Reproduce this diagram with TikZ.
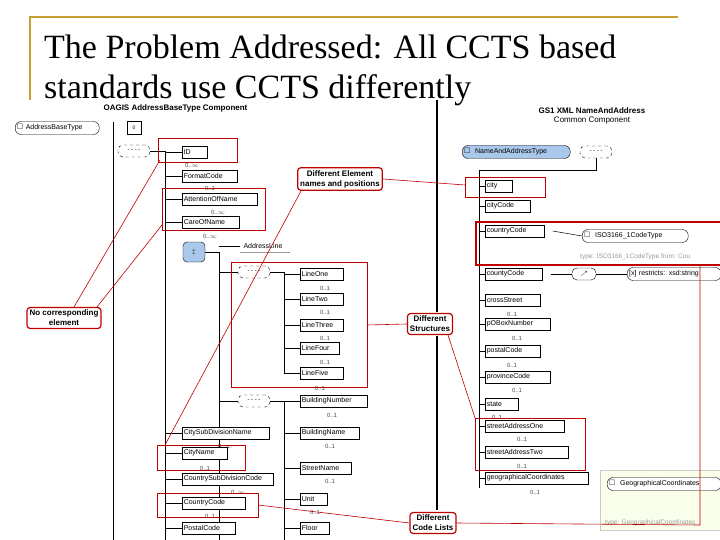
\documentclass[tikz,border=0pt]{standalone}
\usepackage{amssymb}
\usepackage{fontspec}
\setmainfont{Liberation Serif}
\newfontfamily\ssf{Liberation Sans}
\begin{document}
\begin{tikzpicture}[x=1pt,y=-1pt,
 el/.style={draw=black,fill=white,line width=0.6pt,font=\ssf\fontsize{7}{7}\selectfont,anchor=west,minimum height=12pt,inner sep=1.5pt,align=left,text width=#1},
 el/.default=30pt,
 ln/.style={line width=0.5pt,black},
 rb/.style={draw=red!75!black,line width=0.8pt},
 rl/.style={red!75!black,line width=0.6pt},
 call/.style={draw=red!75!black,line width=1.2pt,rounded corners=3pt,fill=white,font=\ssf\bfseries\fontsize{8}{10}\selectfont,align=center,inner sep=2.5pt},
 mult/.style={font=\ssf\fontsize{6}{6}\selectfont,text=black!70,inner sep=0pt},
 seq/.style={draw,dashed,rounded corners=5pt,fill=white,minimum width=32pt,minimum height=12pt,inner sep=0pt,font=\ssf\fontsize{6}{6}\selectfont},
 typ/.style={draw,rounded corners=6pt,fill=white,minimum height=13pt,anchor=west,font=\ssf\fontsize{7}{7}\selectfont,inner sep=2pt,align=left},
 gray/.style={font=\ssf\fontsize{6.5}{6}\selectfont,text=black!40,anchor=west,inner sep=0pt}]
\useasboundingbox (0,0) rectangle (720,540);
\fill[white] (0,0) rectangle (720,540);
% frame
\draw[color={rgb,255:red,200;green,160;blue,50},line width=1.5pt] (30,100) -- (30,17) -- (678,17);
% ===== left component =====
\node[font=\ssf\bfseries\fontsize{8}{8}\selectfont,anchor=west] (hl) at (100,108) {OAGIS AddressBaseType Component};
\node[typ,text width=80pt] (abt) at (15,128) {$\square$\ AddressBaseType};
\node[draw,fill=white,minimum width=14pt,minimum height=13pt,inner sep=0pt] (ch1) at (134,128) {\ssf\tiny 0};
\node[seq] (s1) at (134,151) {- - - -};
\draw[ln] (113,122) -- (113,540);
\draw[ln] (s1.east) -- (165,151) coordinate (v1);
\draw[ln] (165,151) -- (165,540);
\newcommand\elm[6]{\node[el=#4pt] (#1) at (#2,#3) {#5}; \draw[ln] (#6,#3) -- (#1.west);}
\elm{id}{182}{152}{22}{ID}{165}
\node[mult] (m1) at (192,165) {0..$\infty$};
\elm{fc}{182}{176}{52}{FormatCode}{165}
\node[mult] (m2) at (210,188) {0..1};
\elm{aon}{182}{199}{72}{AttentionOfName}{165}
\node[mult] (m3) at (218,212) {0..$\infty$};
\elm{con}{182}{222}{54}{CareOfName}{165}
\node[mult] (m4) at (210,236) {0..$\infty$};
\node[draw,rounded corners=4pt,fill={rgb,255:red,170;green,200;blue,235},minimum width=22pt,minimum height=20pt] (chc) at (194,252) {\ssf\tiny $\updownarrow$};
\draw[ln] (chc.east) -- (219,252) -- (219,540);
\node[font=\ssf\fontsize{7}{7}\selectfont,anchor=west] (adl) at (240,246) {AddressLine};
\draw[black!40,line width=1pt] (240,252) -- (290,252);
\draw[ln] (219,246) -- (adl.west);
\node[seq] (s2) at (254,272) {- - - -};
\draw[ln] (219,272) -- (s2.west);
\draw[ln] (s2.east) -- (284,272) -- (284,373);
\elm{l1}{300}{274}{40}{LineOne}{284}
\node[mult] (m5) at (325,288) {0..1};
\elm{l2}{300}{299}{40}{LineTwo}{284}
\node[mult] (m6) at (325,312) {0..1};
\elm{l3}{300}{325}{40}{LineThree}{284}
\node[mult] (m7) at (325,338) {0..1};
\elm{l4}{300}{348}{36}{LineFour}{284}
\node[mult] (m8) at (325,362) {0..1};
\elm{l5}{300}{373}{40}{LineFive}{284}
\node[mult] (m9) at (320,388) {0..1};
\node[seq] (s3) at (254,401) {- - - -};
\draw[ln] (219,401) -- (s3.west);
\draw[ln] (s3.east) -- (284,401) -- (284,540);
\elm{bn}{300}{401}{64}{BuildingNumber}{284}
\node[mult] (m10) at (332,415) {0..1};
\elm{bna}{300}{433}{56}{BuildingName}{284}
\node[mult] (m11) at (330,446) {0..1};
\elm{sn}{300}{468}{48}{StreetName}{284}
\node[mult] (m12) at (330,481) {0..1};
\elm{un}{300}{499}{24}{Unit}{284}
\node[mult] (m13) at (315,512) {0..1};
\elm{fl}{300}{528}{26}{Floor}{284}
\elm{csd}{182}{433}{84}{CitySubDivisionName}{165}
\node[mult] (m14) at (225,446) {0..$\infty$};
\elm{cn}{182}{453}{42}{CityName}{165}
\node[mult] (m15) at (205,468) {0..1};
\elm{csc}{182}{479}{88}{CountrySubDivisionCode}{165}
\node[mult] (m16) at (238,492) {0..$\infty$};
\elm{cc}{182}{503}{60}{CountryCode}{165}
\node[mult] (m17) at (210,516) {0..1};
\elm{pc}{182}{528}{50}{PostalCode}{165}
% red boxes left
\draw[rb] (158,138) rectangle (237,162);
\draw[rb] (162,188) rectangle (265,230);
\draw[rb] (231,262) rectangle (367,387);
\draw[rb] (157,445) rectangle (245,470);
\draw[rb] (157,493) rectangle (258,517);
\coordinate (rbid) at (160,160);
\coordinate (rbao) at (162,225);
\coordinate (rbl) at (367,325);
\coordinate (rbcn) at (165,445);
\coordinate (rbcc) at (258,505);
% ===== right component =====
\node[font=\ssf\bfseries\fontsize{8}{9.5}\selectfont,align=center] (hr) at (592,116) {GS1 XML NameAndAddress\\[-1pt]\mdseries Common Component};
\node[typ,fill={rgb,255:red,170;green,200;blue,235},text width=104pt] (nat) at (462,152) {$\square$\ \ NameAndAddressType};
\node[seq] (s4) at (596,152) {- - - -};
\draw[ln] (s4.south) -- (596,170) -- (479,170) -- (479,488);
\elm{city}{485}{186}{24}{city}{479}
\elm{cityc}{485}{206}{42}{cityCode}{479}
\elm{ctc}{485}{231}{56}{countryCode}{479}
\node[typ,text width=102pt] (iso) at (582,236) {$\square$\ \ ISO3166\_1CodeType};
\draw[ln] (ctc.east) ++(8,0) -- (iso.west);
\node[gray] (isot) at (580,257) {type: ISO3166\_1CodeType from: Cou};
\elm{cyc}{485}{274}{54}{countyCode}{479}
\node[seq,minimum width=24pt,solid] (pat) at (584,274) {$\nearrow$};
\node[typ,text width=90pt] (rst) at (627,274) {[x]\ restricts: xsd:string};
\draw[ln] (cyc.east) ++(8,0) -- (pat.west);
\draw[ln] (pat.east) -- (rst.west);
\elm{crs}{485}{300}{52}{crossStreet}{479}
\node[mult] (n1) at (512,314) {0..1};
\elm{pob}{485}{324}{62}{pOBoxNumber}{479}
\node[mult] (n2) at (517,338) {0..1};
\elm{poc}{485}{351}{52}{postalCode}{479}
\node[mult] (n3) at (512,365) {0..1};
\elm{prc}{485}{377}{62}{provinceCode}{479}
\node[mult] (n4) at (517,390) {0..1};
\elm{st}{485}{404}{30}{state}{479}
\node[mult] (n5) at (497,417) {0..1};
\elm{sa1}{485}{426}{76}{streetAddressOne}{479}
\node[mult] (n6) at (522,439) {0..1};
\elm{sa2}{485}{452}{80}{streetAddressTwo}{479}
\node[mult] (n7) at (522,466) {0..1};
\elm{geo}{485}{478}{100}{geographicalCoordinates}{479}
\node[mult] (n8) at (535,492) {0..1};
\fill[green!30!yellow!8] (600,470) rectangle (720,530);
\draw[black!20] (600,470) rectangle (720,530);
\node[typ,text width=110pt] (gct) at (607,484) {$\square$\ \ GeographicalCoordinates};
\node[gray] (gt) at (605,523) {type: GeographicalCoordinates};
% red boxes right
\draw[rb] (465,177) rectangle (545,197);
\draw[rb,line width=1.2pt] (476,222) rectangle (722,265);
\draw[rb] (475,418) rectangle (585,470);
% black vertical separators
\draw[line width=1.2pt] (437,100) -- (437,312);
\draw[line width=1.2pt] (437,336) -- (437,510);
% callouts
\node[call] (c1) at (340,179) {Different Element\\names and positions};
\node[call] (c2) at (64,318) {No corresponding\\element};
\node[call] (c3) at (430,324) {Different\\Structures};
\node[call] (c4) at (433,523) {Different\\Code Lists};
\draw[rl] (c2.north) ++(10,0) -- (rbid);
\draw[rl] (c2.north) ++(33,0) -- (rbao);
\draw[rl] (c1.south west) ++(4,0) -- (rbcn);
\draw[rl] (c1.east) -- (465,185);
\draw[rl] (c3.west) -- (rbl);
\draw[rl] (c3.south) ++(18,0) -- (475,418);
\draw[rl] (c4.west) -- (rbcc);
\draw[rl] (c4.east) -- (700,525) -- (700,265);
% title
\node[anchor=base west,font=\fontsize{34}{40}\selectfont,align=left,inner sep=0pt] (title) at (44,99) {The Problem Addressed: All CCTS based\\standards use CCTS differently};
\end{tikzpicture}
\end{document}
